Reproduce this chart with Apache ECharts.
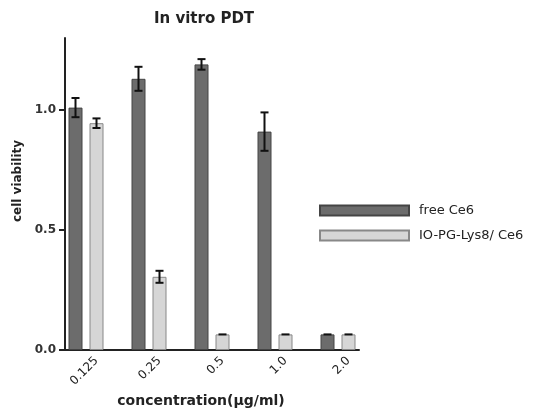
<!DOCTYPE html>
<html>
<head>
<meta charset="utf-8">
<script src="https://cdn.jsdelivr.net/npm/echarts@6/dist/echarts.min.js"></script>
<style>html,body{margin:0;padding:0;background:#fff;}#c{width:541px;height:410px;}</style>
</head>
<body>
<div id="c"></div>
<script>
const categories = ['0.125', '0.25', '0.5', '1.0', '2.0'];
const freeCe6 = [1.01, 1.13, 1.19, 0.91, 0.065];
const freeCe6Err = [0.04, 0.05, 0.022, 0.08, 0];
const ioCe6 = [0.945, 0.305, 0.065, 0.065, 0.065];
const ioCe6Err = [0.02, 0.025, 0, 0, 0];
const yTicks = [0, 0.5, 1.0];

// Build slot layout: each group = [free, io, gap]; last group has no gap
const nSlots = categories.length * 3 - 1;
const slotNames = [], slotLabels = [], freeData = [], ioData = [], errData = [];
for (let i = 0; i < nSlots; i++) {
  const g = Math.floor(i / 3), p = i % 3;
  slotNames.push('s' + i);
  slotLabels.push(p === 1 ? categories[g] : '');
  freeData.push(p === 0 ? freeCe6[g] : null);
  ioData.push(p === 1 ? ioCe6[g] : null);
  if (p === 0) errData.push([i, freeCe6[g], freeCe6Err[g]]);
  if (p === 1) errData.push([i, ioCe6[g], ioCe6Err[g]]);
}

const font = 'DejaVu Sans';
const chart = echarts.init(document.getElementById('c'));
chart.setOption({
  animation: false,
  backgroundColor: '#fff',
  title: {
    text: 'In vitro PDT',
    left: 199, top: 7, textAlign: 'center',
    textStyle: { fontFamily: font, fontSize: 15, fontWeight: 'bold', color: '#222' }
  },
  legend: {
    orient: 'vertical', left: 314, top: 199,
    itemWidth: 89, itemHeight: 10, itemGap: 12,
    icon: 'rect',
    textStyle: { fontFamily: font, fontSize: 13, color: '#222', padding: [0, 0, 0, 5] },
    data: ['free Ce6', 'IO-PG-Lys8/ Ce6']
  },
  grid: { left: 65, right: 182, top: 38, bottom: 60, containLabel: false, outerBoundsMode: 'none' },
  xAxis: {
    type: 'category',
    data: slotNames,
    boundaryGap: true,
    name: 'concentration(μg/ml)',
    nameLocation: 'middle', nameGap: 40,
    nameTextStyle: { fontFamily: font, fontSize: 14, fontWeight: 'bold', color: '#222', padding: [0, 22, 0, 0] },
    axisLine: { lineStyle: { color: '#222', width: 2 } },
    axisTick: { alignWithLabel: true, interval: 0, length: 6, lineStyle: { color: '#222', width: 2 } },
    axisLabel: {
      interval: 0, rotate: 45, margin: 9,
      fontFamily: font, fontSize: 12, color: '#222',
      formatter: (v, idx) => slotLabels[idx]
    },
    splitLine: { show: false }
  },
  yAxis: {
    type: 'value', min: 0, max: 1.3,
    name: 'cell viability',
    nameLocation: 'middle', nameGap: 34,
    nameTextStyle: { fontFamily: font, fontSize: 12, fontWeight: 'bold', color: '#222', padding: [0, 0, 0, 26] },
    axisLine: { show: true, lineStyle: { color: '#222', width: 2 } },
    axisTick: { show: true, length: 6, customValues: yTicks, lineStyle: { color: '#222', width: 2 } },
    axisLabel: {
      customValues: yTicks, margin: 9,
      fontFamily: font, fontSize: 12, fontWeight: 'bold', color: '#333',
      formatter: v => v.toFixed(1)
    },
    splitLine: { show: false }
  },
  series: [
    {
      name: 'free Ce6', type: 'bar', data: freeData,
      barWidth: 14, barGap: '-100%',
      itemStyle: { color: '#6c6c6c', borderColor: '#444', borderWidth: 1 }
    },
    {
      name: 'IO-PG-Lys8/ Ce6', type: 'bar', data: ioData,
      barWidth: 14, barGap: '-100%',
      itemStyle: { color: '#d6d6d6', borderColor: '#888', borderWidth: 1 }
    },
    {
      type: 'custom', name: 'err', data: errData, z: 10,
      renderItem: function (params, api) {
        const x = api.value(0), m = api.value(1), e = api.value(2);
        const hi = api.coord([x, m + e]);
        const lo = api.coord([x, m - e]);
        const cw = 4;
        const st = { stroke: '#111', lineWidth: 2 };
        const children = [
          { type: 'line', shape: { x1: hi[0] - cw, y1: hi[1], x2: hi[0] + cw, y2: hi[1] }, style: st }
        ];
        if (e > 0) {
          children.push({ type: 'line', shape: { x1: hi[0], y1: hi[1], x2: lo[0], y2: lo[1] }, style: st });
          children.push({ type: 'line', shape: { x1: lo[0] - cw, y1: lo[1], x2: lo[0] + cw, y2: lo[1] }, style: st });
        }
        return { type: 'group', children: children };
      }
    }
  ]
});
</script>
</body>
</html>
